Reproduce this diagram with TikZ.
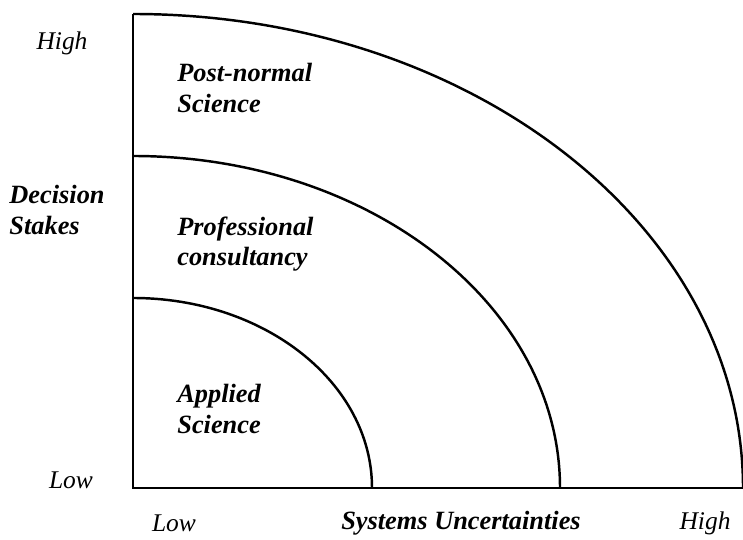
\documentclass[tikz,border=0pt]{standalone}
\usepackage{fontspec}
\setmainfont{Liberation Serif}
\begin{document}
\begin{tikzpicture}[x=0.02cm,y=0.02cm,
  axis/.style={line width=1.6pt},
  zone/.style={line width=1.4pt},
  region/.style={font=\fontsize{15}{17.5}\selectfont\bfseries\itshape,
                 align=left,anchor=west,inner sep=0pt},
  tick/.style={font=\fontsize{14.5}{17.5}\selectfont\itshape,inner sep=0pt}]
  \useasboundingbox (0,0) rectangle (743,540);
  \clip (0,0) rectangle (743,540);
  \coordinate (o) at (133,52);
  \coordinate (ytop) at (133,526);
  \coordinate (xend) at (745,52);
  % the three zones
  \draw[zone] (133,242) arc[start angle=90,end angle=0,x radius=239,y radius=190];
  \draw[zone] (133,384) arc[start angle=90,end angle=0,x radius=427,y radius=332];
  \draw[zone] (ytop) arc[start angle=90,end angle=0,x radius=610,y radius=474];
  \draw[axis] (ytop) -- (o) -- (xend);
  % zone labels
  \node[region] (pns) at (177,452) {Post-normal\\Science};
  \node[region] (pc)  at (177,296) {Professional\\consultancy};
  \node[region] (as)  at (177,131) {Applied\\Science};
  % axis labels
  \node[tick] (yhigh) at (62,497) {High};
  \node[tick] (ylow)  at (71,60)  {Low};
  \node[region,anchor=center] (ds) at (57,330) {Decision\\Stakes};
  \node[tick] (xlow)  at (174,17) {Low};
  \node[region,anchor=center] (su) at (461,17) {Systems Uncertainties};
  \node[tick] (xhigh) at (705,17) {High};
\end{tikzpicture}
\end{document}
